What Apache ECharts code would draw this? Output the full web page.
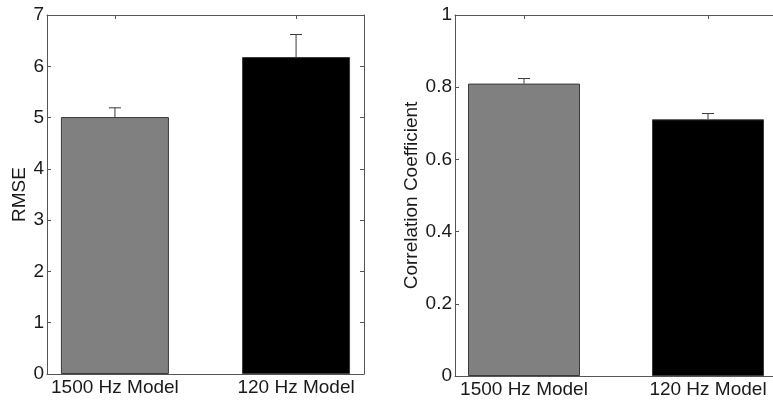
<!DOCTYPE html>
<html>
<head>
<meta charset="utf-8">
<script src="https://cdn.jsdelivr.net/npm/echarts@6/dist/echarts.min.js"></script>
<style>
  html, body { margin: 0; padding: 0; background: #fff; }
  #chart { width: 773px; height: 405px; }
</style>
</head>
<body>
<div id="chart"></div>
<script>
const models = ['1500 Hz Model', '120 Hz Model']
const xPos = [1, 2]
const rmseMean = [5.01, 6.18]
const rmseErr = [0.18, 0.44]
const corrMean = [0.81, 0.711]
const corrErr = [0.014, 0.016]
const rmseTicks = [0, 1, 2, 3, 4, 5, 6, 7]
const corrTicks = [0, 0.2, 0.4, 0.6, 0.8, 1]

const FONT = 'Liberation Sans'
const TEXT = '#1a1a1a'
const FRAME = '#555'
const barColors = ['#808080', '#000000']

const chart = echarts.init(document.getElementById('chart'))

function xAxes(gridIndex) {
  const common = {
    gridIndex,
    type: 'value',
    min: 0.625,
    max: 2.375,
    splitLine: { show: false },
    axisLine: { show: true, onZero: false, lineStyle: { color: FRAME, width: 1 } },
    axisTick: { show: true, inside: true, length: 4, customValues: xPos, lineStyle: { color: FRAME } }
  }
  return [
    {
      ...common,
      position: 'bottom',
      axisLabel: {
        show: true,
        customValues: xPos,
        margin: 4,
        color: TEXT,
        fontFamily: FONT,
        fontSize: 19,
        formatter: (v) => models[Math.round(v) - 1]
      }
    },
    { ...common, position: 'top', axisLabel: { show: false } }
  ]
}

// the second panel's right frame line falls outside the picture, so it gets no right axis
function yAxes(gridIndex, max, interval, name, nameGap, ticks, withRight) {
  const common = {
    gridIndex,
    type: 'value',
    min: 0,
    max,
    interval,
    splitLine: { show: false },
    axisLine: { show: true, onZero: false, lineStyle: { color: FRAME, width: 1 } },
    axisTick: { show: true, inside: true, length: 4, lineStyle: { color: FRAME } }
  }
  const axes = [
    {
      ...common,
      position: 'left',
      name,
      nameLocation: 'middle',
      nameGap,
      nameTextStyle: { color: TEXT, fontFamily: FONT, fontSize: 19 },
      axisLabel: {
        margin: 3,
        color: TEXT,
        fontFamily: FONT,
        fontSize: 19,
        formatter: (v) => {
          const t = ticks.find((k) => Math.abs(k - v) < 1e-9)
          return t === undefined ? '' : String(t)
        }
      }
    }
  ]
  if (withRight) {
    axes.push({ ...common, position: 'right', axisLabel: { show: false } })
  }
  return axes
}

function barSeries(xIdx, yIdx, means, width) {
  return {
    type: 'bar',
    xAxisIndex: xIdx,
    yAxisIndex: yIdx,
    barWidth: width,
    data: means.map((m, i) => ({
      value: [xPos[i], m],
      itemStyle: { color: barColors[i], borderColor: '#3a3a3a', borderWidth: 1 }
    })),
    z: 2
  }
}

function errSeries(xIdx, yIdx, means, errs) {
  return {
    type: 'custom',
    xAxisIndex: xIdx,
    yAxisIndex: yIdx,
    data: means.map((m, i) => [xPos[i], m, m + errs[i]]),
    z: 3,
    renderItem: (params, api) => {
      const base = api.coord([api.value(0), api.value(1)])
      const top = api.coord([api.value(0), api.value(2)])
      const style = { stroke: '#3a3a3a', lineWidth: 1 }
      return {
        type: 'group',
        children: [
          { type: 'line', shape: { x1: base[0], y1: base[1], x2: top[0], y2: top[1] }, style },
          { type: 'line', shape: { x1: top[0] - 6, y1: top[1], x2: top[0] + 6, y2: top[1] }, style }
        ]
      }
    }
  }
}

chart.setOption({
  animation: false,
  backgroundColor: '#fff',
  grid: [
    { left: 47, top: 15, width: 317, height: 359, outerBoundsMode: 'none' },
    { left: 455, top: 15, width: 322, height: 361, outerBoundsMode: 'none' }
  ],
  xAxis: [...xAxes(0), ...xAxes(1)],
  yAxis: [
    ...yAxes(0, 7, 1, 'RMSE', 17, rmseTicks, true),
    ...yAxes(1, 1, 0.2, 'Correlation Coefficient', 32, corrTicks, false)
  ],
  series: [
    barSeries(0, 0, rmseMean, 108),
    errSeries(0, 0, rmseMean, rmseErr),
    barSeries(2, 2, corrMean, 112),
    errSeries(2, 2, corrMean, corrErr)
  ]
})
</script>
</body>
</html>
